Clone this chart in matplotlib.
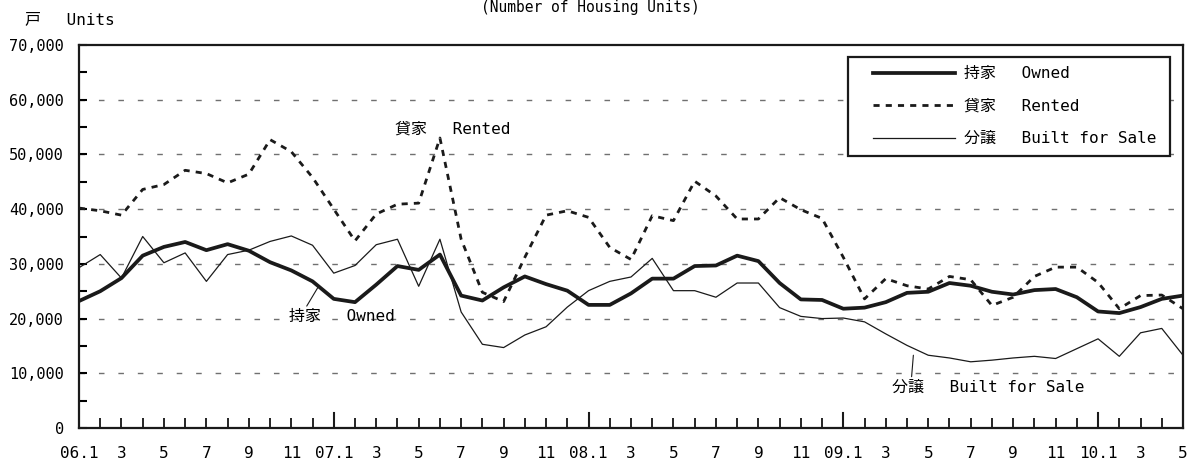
import numpy as np
import matplotlib
matplotlib.use('Agg')
import matplotlib.pyplot as plt
from matplotlib.patches import Rectangle
from matplotlib.ticker import MultipleLocator

# monospaced latin like the original, CJK falls back to Noto
plt.rcParams['font.family'] = ['DejaVu Sans Mono', 'Noto Sans CJK JP']

# 2006.1 - 2010.5 monthly
months = list(range(53))
tick_labels = ['06.1', '3', '5', '7', '9', '11',
               '07.1', '3', '5', '7', '9', '11',
               '08.1', '3', '5', '7', '9', '11',
               '09.1', '3', '5', '7', '9', '11',
               '10.1', '3', '5']

owned = [23200, 25000, 27400, 31500, 33100, 34000, 32500, 33600, 32400,
         30300, 28800, 26800, 23600, 23000, 26200, 29600, 28900, 31700,
         24200, 23300, 25700, 27700, 26300, 25100, 22500, 22500, 24600,
         27300, 27300, 29600, 29700, 31500, 30500, 26500, 23500, 23400,
         21800, 22000, 23000, 24700, 24900, 26500, 26000, 24900, 24400,
         25200, 25400, 23900, 21300, 21000, 22100, 23600, 24200]

rented = [40200, 39700, 38900, 43600, 44500, 47100, 46500, 44800, 46400,
          52700, 50500, 45800, 40000, 34200, 39100, 40900, 41100, 53000,
          34500, 24800, 23100, 31200, 38900, 39700, 38500, 33000, 30800,
          38800, 37900, 45100, 42400, 38200, 38200, 42100, 39900, 38300,
          31200, 23600, 27300, 26000, 25400, 27700, 27100, 22400, 23900,
          27700, 29400, 29400, 26600, 21800, 24200, 24300, 21800]

for_sale = [29300, 31700, 27400, 35000, 30200, 32000, 26800, 31700, 32500,
            34100, 35100, 33400, 28300, 29700, 33500, 34500, 25900, 34500,
            21200, 15300, 14700, 17000, 18500, 22100, 25100, 26800, 27600,
            31000, 25100, 25100, 23900, 26500, 26500, 22000, 20400, 20000,
            20100, 19400, 17200, 15100, 13300, 12800, 12100, 12400, 12800,
            13100, 12700, 14500, 16300, 13100, 17400, 18200, 13300]

W, H = 1190, 468
fig = plt.figure(figsize=(W / 100, H / 100), dpi=100)
ax = fig.add_axes([79 / W, 40 / H, 1104 / W, 383 / H])

ax.plot(months, owned, color='#1a1a1a', lw=2.7, solid_joinstyle='round',
        label='持家\u3000 Owned', zorder=4)
ax.plot(months, rented, color='#1a1a1a', lw=2.0, linestyle=(0, (2.2, 2.2)),
        label='貸家\u3000 Rented', zorder=3)
ax.plot(months, for_sale, color='#1a1a1a', lw=0.9,
        label='分譲\u3000 Built for Sale', zorder=3)

ax.set_xlim(0, 52)
ax.set_ylim(0, 70000)

# grid
for v in range(10000, 70000, 10000):
    ax.axhline(v, color='#707070', lw=1.0, linestyle=(0, (4, 10)), zorder=1)

ax.yaxis.set_major_locator(MultipleLocator(10000))
ax.yaxis.set_minor_locator(MultipleLocator(5000))
ax.set_yticklabels([f'{int(v):,}' for v in ax.get_yticks()])
ax.tick_params(axis='y', which='both', direction='in', length=6, width=1.5,
               labelsize=11, pad=11)

ax.set_xticks(months[::2])
ax.set_xticklabels(tick_labels)
ax.set_xticks(months, minor=True)
ax.tick_params(axis='x', which='major', direction='in', length=7, width=1.2,
               labelsize=11.5, pad=13)
ax.tick_params(axis='x', which='minor', direction='in', length=7, width=1.2)
for m in [12, 24, 36, 48]:
    ax.plot([m, m], [0, 2700], color='#1a1a1a', lw=1.5, zorder=2)

for s in ax.spines.values():
    s.set_linewidth(1.6)
    s.set_color('#1a1a1a')

# legend box drawn by hand so the padding matches the original
box = Rectangle((848 / W, 1 - 156 / H), 322 / W, 99 / H, transform=fig.transFigure,
                facecolor='white', edgecolor='#1a1a1a', lw=1.6, zorder=5)
ax.add_patch(box)
leg = ax.legend(loc='upper left', bbox_to_anchor=(866 / W, 1 - 59 / H),
                bbox_transform=fig.transFigure, fontsize=11.5, frameon=False,
                handlelength=5.1, borderpad=0.45, labelspacing=1.1,
                handletextpad=0.6, borderaxespad=0)
leg.set_zorder(6)

# annotations
ax.text(14.9, 54700, '貸家\u3000 Rented', fontsize=11.5, va='center')
ax.annotate('持家\u3000 Owned', xy=(11.3, 26000), xytext=(9.9, 20400),
            fontsize=11.5, va='center',
            arrowprops=dict(arrowstyle='-', color='#1a1a1a', lw=0.8,
                            shrinkA=0, shrinkB=0, relpos=(0.15, 1.0)))
ax.annotate('分譲\u3000 Built for Sale', xy=(39.3, 13300), xytext=(38.3, 7500),
            fontsize=11.5, va='center',
            arrowprops=dict(arrowstyle='-', color='#1a1a1a', lw=0.8,
                            shrinkA=0, shrinkB=0, relpos=(0.1, 1.0)))

fig.text(25 / W, 1 - 20 / H, '戸\u3000 Units', fontsize=11.5, va='center')
fig.text(590 / W, 1.0, '(Number of Housing Units)', fontsize=10.5,
         va='top', ha='center')

fig.savefig('out.png', dpi=100)
